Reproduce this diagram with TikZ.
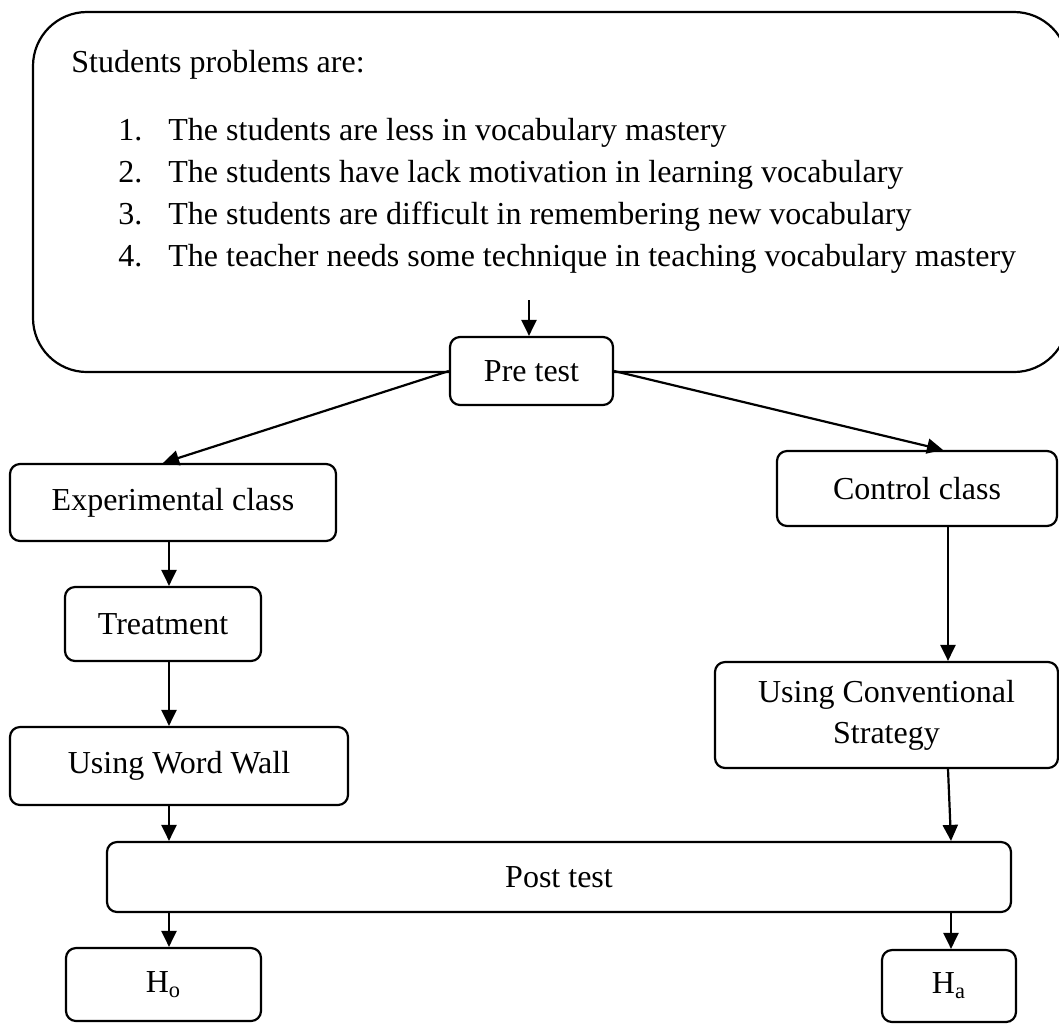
\documentclass[tikz,border=0pt]{standalone}
\usepackage{fontspec}
\setmainfont{Liberation Serif}
\usetikzlibrary{arrows.meta}
\begin{document}
\begin{tikzpicture}[x=0.5pt,y=-0.5pt,
  box/.style={draw,fill=white,line width=1.1pt,rounded corners=5pt,inner sep=0pt,align=center,font=\fontsize{16pt}{20.5pt}\selectfont},
  txt/.style={inner sep=0pt,anchor=base west,font=\fontsize{16pt}{19pt}\selectfont},
  arr/.style={line width=1.1pt,-{Triangle[length=8pt,width=7.5pt]}}]
\useasboundingbox (0,0) rectangle (1059,1025);
% problems box
\node[box,rounded corners=27pt,minimum width=517.5pt,minimum height=180pt] (prob) at (550.5,192) {};
\node[txt] (title) at (71,72) {Students problems are:};
\node[txt] (n1) at (118,140) {1.};
\node[txt] (t1) at (168,140) {The students are less in vocabulary mastery};
\node[txt] (n2) at (118,182) {2.};
\node[txt] (t2) at (168,182) {The students have lack motivation in learning vocabulary};
\node[txt] (n3) at (118,224) {3.};
\node[txt] (t3) at (168,224) {The students are difficult in remembering new vocabulary};
\node[txt] (n4) at (118,266) {4.};
\node[txt] (t4) at (168,266) {The teacher needs some technique in teaching vocabulary mastery};
% boxes
\node[box,minimum width=81.5pt,minimum height=34pt] (pre) at (531.5,371) {Pre test};
\node[box,minimum width=163pt,minimum height=38.5pt] (exp) at (173,502.5) {Experimental class};
\node[box,minimum width=140pt,minimum height=37.5pt] (ctrl) at (917,488.5) {Control class};
\node[box,minimum width=98pt,minimum height=37pt] (treat) at (163,624) {Treatment};
\node[box,minimum width=169pt,minimum height=39pt] (ww) at (179,766) {Using Word Wall};
\node[box,minimum width=171.5pt,minimum height=53pt] (ucs) at (886.5,715) {Using Conventional\\Strategy};
\node[box,minimum width=452pt,minimum height=35pt] (post) at (559,877) {Post test};
\node[box,minimum width=97.5pt,minimum height=36.5pt] (ho) at (163.5,984.5) {H\textsubscript{o}};
\node[box,minimum width=67pt,minimum height=36pt] (ha) at (949,986) {H\textsubscript{a}};
% connectors
\coordinate (a0) at (529,300);
\draw[arr] (a0) -- (a0 |- pre.north);
\draw[arr] (pre.west) -- ([xshift=-5pt]exp.north);
\draw[arr] (pre.east) -- ([xshift=13pt]ctrl.north);
\draw[arr] ([xshift=-2pt]exp.south) -- ([xshift=-2pt]exp.south |- treat.north);
\draw[arr] ([xshift=3pt]treat.south) -- ([xshift=3pt]treat.south |- ww.north);
\draw[arr] ([xshift=15.5pt]ctrl.south) -- ([xshift=15.5pt]ctrl.south |- ucs.north);
\draw[arr] ([xshift=30.75pt]ucs.south) -- ([xshift=196pt]post.north);
\draw[arr] ([xshift=-5pt]ww.south) -- ([xshift=-5pt]ww.south |- post.north);
\draw[arr] ([xshift=-195pt]post.south) -- ([xshift=-195pt]post.south |- ho.north);
\draw[arr] ([xshift=196pt]post.south) -- ([xshift=196pt]post.south |- ha.north);
\end{tikzpicture}
\end{document}
